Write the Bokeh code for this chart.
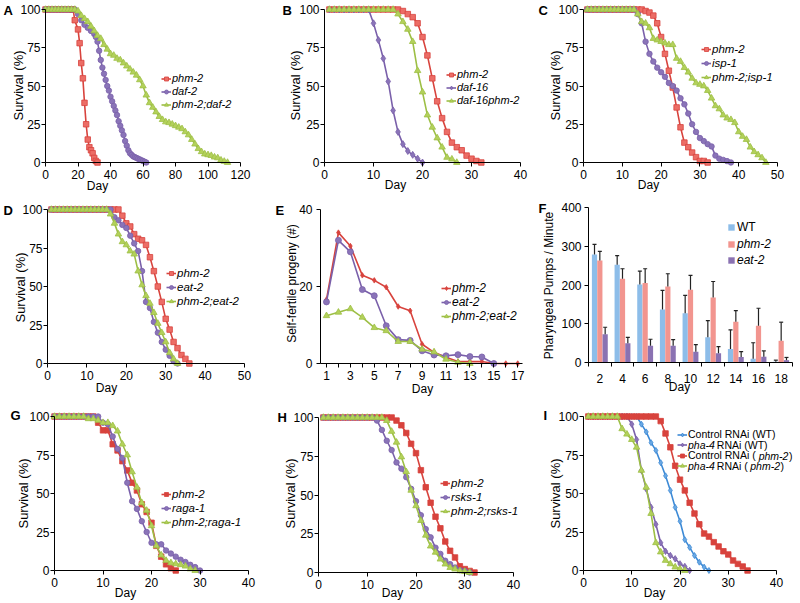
import math
from bokeh.plotting import figure
from bokeh.layouts import column, row
from bokeh.models import Range1d, FixedTicker, Legend, LegendItem, Label
from bokeh.embed import file_html
from bokeh.resources import INLINE

FONT = "Liberation Sans"

# ---------------- data ----------------
# A
a_phm2_day = [0, 2, 4, 6, 8, 10, 12, 14, 16, 17, 18, 20, 21, 22, 23, 24, 25, 26, 27, 28, 29, 30, 31, 32]
a_phm2 = [100, 100, 100, 100, 100, 100, 100, 100, 100, 100, 93, 87, 78, 65, 55, 39, 25, 15, 10, 8, 6, 3, 1, 0]
a_daf2_day = [0, 2, 4, 6, 8, 10, 12, 14, 16, 18, 20, 22, 24, 26, 28, 30, 31, 32, 33, 34, 35, 36, 37, 38, 39, 40,
              41, 42, 43, 44, 45, 46, 47, 48, 49, 50, 51, 52, 53, 54, 55, 56, 57, 58, 59, 60, 61, 62]
a_daf2 = [100, 100, 100, 100, 100, 100, 100, 100, 100, 100, 97, 93, 90, 88, 86, 84, 82, 79, 73, 67, 62, 58, 54, 50,
          47, 43, 40, 37, 34, 31, 27, 24, 21, 18, 14, 11, 8, 6, 5, 4, 3.5, 3, 2.5, 2, 1.5, 1, 0.5, 0]
a_dbl_day = [0, 2, 4, 6, 8, 10, 12, 14, 16, 18, 20, 22, 24, 26, 28, 30, 32, 34, 36, 38, 40, 42, 44, 46, 48, 50,
             52, 54, 56, 58, 60, 62, 64, 66, 68, 70, 72, 74, 76, 78, 80, 82, 84, 86, 88, 90, 92, 94, 96, 98, 100,
             102, 104, 106, 108, 110, 112]
a_dbl = [100, 100, 100, 100, 100, 100, 100, 100, 100, 100, 99, 96, 94, 92, 89, 86, 83, 81, 77, 74, 71, 70, 68, 67,
         65, 63, 61, 59, 57, 54, 50, 44, 39, 36, 33, 30, 28, 26.5, 26, 25, 24, 23, 22, 20, 18, 15, 12, 9, 7, 5.5,
         5, 4.5, 3.5, 3, 1.5, 0.7, 0]

# B
b_phm2_day = [1, 2, 3, 4, 5, 6, 7, 8, 9, 10, 11, 12, 13, 14, 15, 16, 17, 18, 19, 20, 21, 22, 23, 24, 25, 26, 27,
              28, 29, 30, 31, 32]
b_phm2 = [100, 100, 100, 100, 100, 100, 100, 100, 100, 100, 100, 100, 100, 100, 100, 99, 97, 95, 91, 82, 70, 55,
          40, 29, 20, 13, 10, 8, 4.5, 2.5, 1, 0]
b_daf16_day = [1, 2, 3, 4, 5, 6, 7, 8, 9, 10, 11, 12, 13, 14, 15, 16, 17, 18, 19, 20]
b_daf16 = [100, 100, 100, 100, 100, 100, 100, 100, 100, 91, 80, 68, 53, 34, 20, 12, 7.5, 5, 2.5, 0]
b_dbl_day = [1, 2, 3, 4, 5, 6, 7, 8, 9, 10, 11, 12, 13, 14, 15, 16, 17, 18, 19, 20, 21, 22, 23, 24, 25, 26, 27]
b_dbl = [100, 100, 100, 100, 100, 100, 100, 100, 100, 100, 100, 100, 100, 100, 97, 92, 87, 79, 60, 46, 31, 23,
         16, 10, 3.3, 2.2, 0]

# C
c_phm2_day = b_phm2_day
c_phm2 = [100, 100, 100, 100, 100, 100, 100, 100, 100, 100, 100, 100, 100, 100, 100, 99, 98, 96, 91, 82, 71, 60,
          49, 36, 23, 13, 10, 6.5, 3.5, 1, 1, 0]
c_isp1_day = [1, 2, 3, 4, 5, 6, 7, 8, 9, 10, 11, 12, 13, 14, 15, 16, 17, 18, 19, 20, 21, 22, 23, 24, 25, 26, 27,
              28, 29, 30, 31, 32, 33, 34, 35, 36, 37, 38]
c_isp1 = [100, 100, 100, 100, 100, 100, 100, 100, 100, 100, 100, 100, 100, 97, 91, 79, 71, 66, 62, 59, 56, 52, 50,
          47, 42, 38, 32, 25, 20, 16, 14, 12, 10.5, 4.5, 2.5, 1.7, 0.9, 0]
c_dbl_day = [1, 2, 3, 4, 5, 6, 7, 8, 9, 10, 11, 12, 13, 14, 15, 16, 17, 18, 19, 20, 21, 22, 23, 24, 25, 26, 27,
             28, 29, 30, 31, 32, 33, 34, 35, 36, 37, 38, 39, 40, 41, 42, 43, 44, 45, 46, 47]
c_dbl = [100, 100, 100, 100, 100, 100, 100, 100, 100, 100, 100, 100, 100, 97, 92, 91, 88, 81, 80, 79, 78, 77, 77,
         68, 66, 62, 59, 55, 52, 51, 50, 47, 42, 37, 35, 31, 29, 28, 26, 20, 17, 15, 10, 7, 5, 3, 0]

# D
d_phm2_day = [1, 2, 3, 4, 5, 6, 7, 8, 9, 10, 11, 12, 13, 14, 15, 16, 17, 18, 19, 20, 21, 22, 23, 24, 25, 26, 27,
              28, 29, 30, 31, 32, 33, 34, 35, 36]
d_phm2 = [100, 100, 100, 100, 100, 100, 100, 100, 100, 100, 100, 100, 100, 100, 100, 100, 100, 100, 96, 91, 89, 84,
          81, 80, 77, 69, 60, 50, 40, 29, 22, 14, 10, 5.5, 3, 0]
d_eat2_day = [1, 2, 3, 4, 5, 6, 7, 8, 9, 10, 11, 12, 13, 14, 15, 16, 17, 18, 19, 20, 21, 22, 23, 24, 25, 26, 27,
              28, 29, 30, 31, 32, 33]
d_eat2 = [100, 100, 100, 100, 100, 100, 100, 100, 100, 100, 100, 100, 100, 100, 100, 100, 95, 93, 90, 88, 83, 78,
          73, 60, 40, 36, 27, 20, 14, 9, 5, 1.5, 0]
d_dbl_day = d_eat2_day
d_dbl = [100, 100, 100, 100, 100, 100, 100, 100, 100, 100, 100, 100, 100, 100, 100, 97, 91, 84, 79, 77, 73, 71, 60,
         51, 44, 39, 33, 26, 20, 14, 7, 3, 0]

# E
e_phm2_day = [1, 2, 3, 4, 5, 6, 7, 8, 9, 10, 11, 12, 13, 14, 15, 16, 17]
e_phm2 = [16.6, 34, 30.5, 22.9, 21.6, 19.8, 14.8, 13.7, 5, 2.9, 1.6, 0.5, 0.5, 0.5, 0, 0, 0]
e_eat2_day = [1, 2, 3, 4, 5, 6, 7, 8, 9, 10, 11, 12, 13, 14, 15]
e_eat2 = [16, 32, 29, 19.2, 17.6, 9.8, 6.2, 6, 3.3, 2.2, 2, 2.3, 1.8, 1.7, 0]
e_dbl_day = [1, 2, 3, 4, 5, 6, 7, 8, 9, 10, 11, 12, 13]
e_dbl = [12.4, 13.3, 14.2, 12, 9.3, 8.5, 5.7, 5.7, 3.7, 3, 1.1, 0.3, 0]
e_ticks = [1, 3, 5, 7, 9, 11, 13, 15, 17]
e_minor = [2, 4, 6, 8, 10, 12, 14, 16]

# F
f_day = [2, 4, 6, 8, 10, 12, 14, 16, 18]
f_wt = [279, 252, 201, 137, 127, 65, 35, 10, 2]
f_wt_err = [26, 24, 35, 49, 46, 43, 49, 41, 4]
f_phm2 = [263, 216, 205, 196, 188, 168, 105, 95, 56]
f_phm2_err = [24, 26, 37, 33, 37, 41, 29, 45, 48]
f_eat2 = [73, 50, 43, 43, 28, 24, 14, 15, 6]
f_eat2_err = [18, 15, 17, 16, 18, 17, 14, 15, 7]
f_minor = [1, 3, 5, 7, 9, 11, 13, 15, 17, 19]

# G
g_phm2_day = [0, 1, 2, 3, 4, 5, 6, 7, 8, 9, 10, 11, 12, 13, 14, 15, 16, 17, 18, 19, 20, 21, 22, 23, 24, 25]
g_phm2 = [100, 100, 100, 100, 100, 100, 100, 100, 100, 96, 91, 91, 82, 78, 71, 65, 57, 52, 43, 38, 31, 16, 9, 4,
          1.5, 0]
g_raga1_day = [0, 1, 2, 3, 4, 5, 6, 7, 8, 9, 10, 11, 12, 13, 14, 15, 16, 17, 18, 19, 20, 21, 22, 23, 24, 25, 26,
               27, 28, 29, 30]
g_raga1 = [100, 100, 100, 100, 100, 100, 100, 100, 100, 100, 96, 95, 87, 79, 73, 57, 45, 40, 32, 25, 18, 17, 17,
           13, 11, 9, 7, 5.5, 3.7, 2.2, 0]
g_dbl_day = [0, 1, 2, 3, 4, 5, 6, 7, 8, 9, 10, 11, 12, 13, 14, 15, 16, 17, 18, 19, 20, 21, 22, 23, 24, 25, 26,
             27, 28, 29]
g_dbl = [100, 100, 100, 100, 100, 100, 100, 98.5, 98.5, 97.5, 96, 96, 94, 90.5, 82, 75, 64, 54, 44, 39, 29, 16,
         10, 6.5, 5, 4.3, 3.7, 2.8, 1, 0]

# H
h_phm2_day = b_phm2_day
h_phm2 = [100, 100, 100, 100, 100, 100, 100, 100, 100, 100, 100, 100, 100, 100, 100, 98, 95, 90, 83, 77, 66, 55,
          45, 36, 28.5, 20, 14, 9.7, 4, 2.2, 1, 0]
h_rsks1_day = [1, 2, 3, 4, 5, 6, 7, 8, 9, 10, 11, 12, 13, 14, 15, 16, 17, 18, 19, 20, 21, 22, 23, 24, 25, 26, 27,
               28, 29, 30, 31]
h_rsks1 = [100, 100, 100, 100, 100, 100, 100, 100, 100, 100, 100, 98, 92, 85, 79, 71, 67, 61.5, 54, 46, 37, 28,
           22.7, 16, 12, 7.6, 5.4, 3.2, 1.5, 1, 0]
h_dbl_day = h_rsks1_day
h_dbl = [100, 100, 100, 100, 100, 100, 100, 100, 100, 100, 100, 100, 100, 98, 91, 84, 74.5, 65, 53, 43, 33.5, 24,
         17, 13, 8.6, 5.4, 3.2, 2.2, 1, 0.6, 0]

# I
i_ctlwt_day = [1, 2, 3, 4, 5, 6, 7, 8, 9, 10, 11, 12, 13, 14, 15, 16, 17, 18, 19, 20, 21, 22, 23, 24, 25, 26]
i_ctlwt = [100, 100, 100, 100, 100, 100, 100, 100, 100, 100, 100, 95, 90, 83, 78, 70, 61.5, 52, 41, 32, 20, 15,
           9.7, 5.4, 2.2, 0]
i_phawt_day = [1, 2, 3, 4, 5, 6, 7, 8, 9, 10, 11, 12, 13, 14, 15, 16, 17, 18, 19, 20, 21, 22]
i_phawt = [100, 100, 100, 100, 100, 100, 100, 100, 100, 95, 85, 65, 53, 41, 30, 18, 12.5, 9.7, 7.6, 4.3, 2.6, 0]
i_ctlphm_day = [1, 2, 3, 4, 5, 6, 7, 8, 9, 10, 11, 12, 13, 14, 15, 16, 17, 18, 19, 20, 21, 22, 23, 24, 25, 26,
                27, 28, 29, 30, 31, 32, 33, 34]
i_ctlphm = [100, 100, 100, 100, 100, 100, 100, 100, 100, 100, 100, 100, 100, 100, 100, 97, 89, 80, 68, 59, 52, 44,
            37, 30, 24, 22, 18.4, 15.6, 12.5, 10.4, 6.5, 4.3, 2.6, 0]
i_phaphm_day = [1, 2, 3, 4, 5, 6, 7, 8, 9, 10, 11, 12, 13, 14, 15, 16, 17, 18, 19, 20, 21]
i_phaphm = [100, 100, 100, 100, 100, 100, 100, 92, 88.5, 85, 80, 65, 54, 37, 18, 12, 6.5, 4.3, 2.2, 1, 0]

surv_ticks = [0, 25, 50, 75, 100]

# ---------------- styling ----------------
RED = "#d8433d"
RED_F = "#ec6d66"
PUR = "#7a60aa"
PUR_F = "#8a74b8"
GRN = "#9dbf45"
GRN_F = "#b3d15a"
BLU = "#3d8ad6"
BLU_F = "#6aa8e3"

ROWS = [(0, 195), (195, 201), (396, 205)]
COLS = [(0, 269), (269, 261), (530, 270)]

AW = {' ': 278, '(': 333, ')': 333, '-': 333, 'C': 722, 'o': 556, 'n': 556, 't': 278, 'r': 333, 'l': 222,
      'R': 722, 'N': 722, 'A': 667, 'i': 222, 'W': 944, 'T': 611, 'p': 556, 'h': 556, 'a': 556, 'm': 833}


def text_w(s, size):
    return sum(AW.get(c, 556) for c in s) * size / 1000.0


def make_panel(col, rw, xlo, xhi, pxlo, pxhi, ylo, yhi, pyhi, pylo):
    """Frame covers the whole cell; data extents land on the given page pixels."""
    cx, cw = COLS[col]
    cy, ch = ROWS[rw]
    sx = (xhi - xlo) / (pxhi - pxlo)
    sy = (yhi - ylo) / (pylo - pyhi)
    xr = Range1d(xlo - (pxlo - cx) * sx, xhi + (cx + cw - pxhi) * sx)
    yr = Range1d(ylo - (cy + ch - pylo) * sy, yhi + (pyhi - cy) * sy)
    p = figure(width=cw, height=ch, x_range=xr, y_range=yr, output_backend="svg", toolbar_location=None,
               min_border=0)
    p.title.visible = False
    p.outline_line_color = None
    p.xgrid.visible = False
    p.ygrid.visible = False
    info = dict(cx=cx, cy=cy, ch=ch, xlo=xlo, xhi=xhi, ylo=ylo, yhi=yhi)
    return p, info


def style_axes(p, info, xticks, yticks, xminor=None, xmajor_out=4, y_s1=1):
    xa = p.xaxis[0]
    ya = p.yaxis[0]
    xa.ticker = FixedTicker(ticks=xticks, minor_ticks=xminor or [])
    ya.ticker = FixedTicker(ticks=yticks, minor_ticks=[])
    xa.fixed_location = info["ylo"]
    ya.fixed_location = info["xlo"]
    xa.bounds = (info["xlo"], info["xhi"])
    ya.bounds = (info["ylo"], info["yhi"])
    for ax in (xa, ya):
        ax.axis_label = None
        ax.axis_line_color = "black"
        ax.axis_line_width = 1
        ax.major_tick_line_color = "black"
        ax.major_tick_in = 0
        ax.major_tick_out = 4
        ax.minor_tick_line_color = "black"
        ax.minor_tick_in = 0
        ax.minor_tick_out = 4
        ax.major_label_text_font = FONT
        ax.major_label_text_font_size = "12px"
        ax.major_label_text_color = "black"
    xa.major_tick_out = xmajor_out
    xa.major_label_standoff = 3 + (4 - xmajor_out)
    ya.major_label_standoff = y_s1


def add_text(p, info, txt, px, py, size, style="normal", align="left", angle=0.0):
    p.add_layout(Label(x=px - info["cx"], y=info["cy"] + info["ch"] - py, x_units="screen", y_units="screen",
                       text=txt, text_font=FONT, text_font_size=f"{size}px", text_font_style=style,
                       text_color="black", text_baseline="middle", text_align=align, angle=angle))


def axis_titles(p, info, xlab, xpos, ylab, ypos, ysize=13):
    add_text(p, info, xlab, xpos[0], xpos[1], 12, align="center")
    add_text(p, info, ylab, ypos[0], ypos[1], ysize, align="center", angle=math.pi / 2)


def letter(p, info, txt, px, py):
    add_text(p, info, txt, px, py, 13, style="bold")


def series(p, x, y, color, fill, marker, size):
    l = p.line(x, y, line_color=color, line_width=1.6)
    s = p.scatter(x, y, marker=marker, size=size, fill_color=fill, line_color=color, line_width=0.8)
    return [l, s]


def add_legend(p, info, entries, xs, yc1, row_h, fsize, style="italic", glyph_w=10, glyph_h=None, standoff=1):
    n = len(entries)
    heff = int(round(fsize * 1.2))
    sp = int(round(row_h - heff))
    gh = int(glyph_h) if glyph_h is not None else heff
    top = yc1 - heff / 2.0
    bottom = top + n * heff + (n - 1) * sp
    leg = Legend(items=[LegendItem(label=lab, renderers=r) for lab, r in entries],
                 location=(xs - info["cx"], info["cy"] + info["ch"] - bottom),
                 glyph_width=glyph_w, glyph_height=gh, label_height=heff, label_width=5, spacing=sp,
                 padding=0, margin=0, label_standoff=standoff, border_line_alpha=0,
                 background_fill_alpha=0, label_text_font=FONT, label_text_font_size=f"{fsize}px",
                 label_text_font_style=style, label_text_color="black")
    p.add_layout(leg)
    return leg


# ---------------- Panel A ----------------
pA, iA = make_panel(0, 0, 0, 120, 45, 240, 0, 100, 9, 162)
style_axes(pA, iA, [0, 20, 40, 60, 80, 100, 120], surv_ticks)
rA1 = series(pA, a_phm2_day, a_phm2, RED, RED_F, "square", 5.5)
rA2 = series(pA, a_daf2_day, a_daf2, PUR, PUR_F, "circle", 5.5)
rA3 = series(pA, a_dbl_day, a_dbl, GRN, GRN_F, "triangle", 6.5)
add_legend(pA, iA, [("phm-2", rA1), ("daf-2", rA2), ("phm-2;daf-2", rA3)], 161, 82, 11, 11)
axis_titles(pA, iA, "Day", (97, 185), "Survival (%)", (18, 85))
letter(pA, iA, "A", 3, 10)

# ---------------- Panel B ----------------
pB, iB = make_panel(1, 0, 0, 40, 324, 520, 0, 100, 9, 162)
style_axes(pB, iB, [0, 10, 20, 30, 40], surv_ticks)
rB1 = series(pB, b_phm2_day, b_phm2, RED, RED_F, "square", 5.5)
rB2 = series(pB, b_daf16_day, b_daf16, PUR, PUR_F, "diamond", 7)
rB3 = series(pB, b_dbl_day, b_dbl, GRN, GRN_F, "triangle", 6.5)
add_legend(pB, iB, [("phm-2", rB1), ("daf-16", rB2), ("daf-16phm-2", rB3)], 446, 80, 10, 11)
axis_titles(pB, iB, "Day", (395, 184), "Survival (%)", (295, 85))
letter(pB, iB, "B", 282, 10)

# ---------------- Panel C ----------------
pC, iC = make_panel(2, 0, 0, 50, 583, 777, 0, 100, 9, 162)
style_axes(pC, iC, [0, 10, 20, 30, 40, 50], surv_ticks)
rC1 = series(pC, c_phm2_day, c_phm2, RED, RED_F, "square", 5.5)
rC2 = series(pC, c_isp1_day, c_isp1, PUR, PUR_F, "circle", 5.5)
rC3 = series(pC, c_dbl_day, c_dbl, GRN, GRN_F, "triangle", 6.5)
add_legend(pC, iC, [("phm-2", rC1), ("isp-1", rC2), ("phm-2;isp-1", rC3)], 701, 53, 12, 11.5)
axis_titles(pC, iC, "Day", (648, 184), "Survival (%)", (555, 85))
letter(pC, iC, "C", 538, 10)

# ---------------- Panel D ----------------
pD, iD = make_panel(0, 1, 0, 50, 47, 244, 0, 100, 209, 363)
style_axes(pD, iD, [0, 10, 20, 30, 40, 50], surv_ticks)
rD1 = series(pD, d_phm2_day, d_phm2, RED, RED_F, "square", 5.5)
rD2 = series(pD, d_eat2_day, d_eat2, PUR, PUR_F, "circle", 5.5)
rD3 = series(pD, d_dbl_day, d_dbl, GRN, GRN_F, "triangle", 6.5)
add_legend(pD, iD, [("phm-2", rD1), ("eat-2", rD2), ("phm-2;eat-2", rD3)], 166, 277, 12.5, 11.5)
axis_titles(pD, iD, "Day", (106, 387), "Survival (%)", (20, 287))
letter(pD, iD, "D", 3, 210)

# ---------------- Panel E ----------------
pE, iE = make_panel(1, 1, 0.5, 17.4, 320, 522, 0, 40, 209, 363)
style_axes(pE, iE, e_ticks, [0, 20, 40], xminor=e_minor, y_s1=4)
rE1 = series(pE, e_phm2_day, e_phm2, RED, RED, "diamond", 5.5)
rE2 = series(pE, e_eat2_day, e_eat2, PUR, PUR_F, "circle", 6)
rE3 = series(pE, e_dbl_day, e_dbl, GRN, GRN_F, "triangle", 6.5)
add_legend(pE, iE, [("phm-2", rE1), ("eat-2", rE2), ("phm-2;eat-2", rE3)], 441, 292, 12, 12)
axis_titles(pE, iE, "Day", (422, 388), "Self-fertile progeny (#)", (291, 283), ysize=12)
letter(pE, iE, "E", 275, 210)

# ---------------- Panel F ----------------
pF, iF = make_panel(2, 1, 1, 19, 588, 792, 0, 400, 207, 362)
style_axes(pF, iF, f_day, [0, 100, 200, 300, 400], xminor=f_minor, xmajor_out=0, y_s1=3)
fx_wt = [d - 0.47 for d in f_day]
fx_ph = [d for d in f_day]
fx_ea = [d + 0.47 for d in f_day]
bF1 = pF.vbar(x=fx_wt, top=f_wt, width=0.46, fill_color="#8dbde9", line_color=None)
bF2 = pF.vbar(x=fx_ph, top=f_phm2, width=0.46, fill_color="#f2958f", line_color=None)
bF3 = pF.vbar(x=fx_ea, top=f_eat2, width=0.46, fill_color="#8a72b2", line_color=None)
for xs_, v, e in ((fx_wt, f_wt, f_wt_err), (fx_ph, f_phm2, f_phm2_err), (fx_ea, f_eat2, f_eat2_err)):
    tops = [a + b for a, b in zip(v, e)]
    pF.segment(x0=xs_, y0=v, x1=xs_, y1=tops, line_color="#222222", line_width=1.2)
    pF.scatter(x=xs_, y=tops, marker="dash", size=4, line_color="#222222", line_width=1.2)
add_legend(pF, iF, [("WT", [bF1])], 727, 227, 8, 12, style="normal", glyph_w=8, glyph_h=8, standoff=2)
add_legend(pF, iF, [("phm-2", [bF2]), ("eat-2", [bF3])], 727, 244, 16, 12, glyph_w=8, glyph_h=8,
           standoff=2)
axis_titles(pF, iF, "Day", (679, 386), "Pharyngeal Pumps / Minute", (548, 285), ysize=12)
letter(pF, iF, "F", 538, 208)

# ---------------- Panel G ----------------
pG, iG = make_panel(0, 2, 0, 40, 54, 248, 0, 100, 416, 570)
style_axes(pG, iG, [0, 10, 20, 30, 40], surv_ticks)
rG1 = series(pG, g_phm2_day, g_phm2, RED, RED, "square", 5.5)
rG2 = series(pG, g_raga1_day, g_raga1, PUR, PUR_F, "circle", 5.5)
rG3 = series(pG, g_dbl_day, g_dbl, GRN, GRN_F, "triangle", 6.5)
add_legend(pG, iG, [("phm-2", rG1), ("raga-1", rG2), ("phm-2;raga-1", rG3)], 161, 498, 11.5, 11.5)
axis_titles(pG, iG, "Day", (125, 592), "Survival (%)", (23, 493))
letter(pG, iG, "G", 10, 415)

# ---------------- Panel H ----------------
pH, iH = make_panel(1, 2, 0, 40, 318, 513, 0, 100, 417, 572)
style_axes(pH, iH, [0, 10, 20, 30, 40], surv_ticks)
rH1 = series(pH, h_phm2_day, h_phm2, RED, RED, "square", 5.5)
rH2 = series(pH, h_rsks1_day, h_rsks1, PUR, PUR_F, "circle", 5.5)
rH3 = series(pH, h_dbl_day, h_dbl, GRN, GRN_F, "triangle", 6.5)
add_legend(pH, iH, [("phm-2", rH1), ("rsks-1", rH2), ("phm-2;rsks-1", rH3)], 440, 487, 11.5, 11.5)
axis_titles(pH, iH, "Day", (392, 592), "Survival (%)", (290, 493))
letter(pH, iH, "H", 277, 417)

# ---------------- Panel I ----------------
pI, iI = make_panel(2, 2, 0, 40, 583, 776, 0, 100, 416, 570)
style_axes(pI, iI, [0, 10, 20, 30, 40], surv_ticks)
rI1 = series(pI, i_ctlwt_day, i_ctlwt, BLU, BLU_F, "diamond", 6)
rI2 = series(pI, i_phawt_day, i_phawt, PUR, PUR_F, "diamond", 6.5)
rI3 = series(pI, i_ctlphm_day, i_ctlphm, RED, RED, "square", 5.5)
rI4 = series(pI, i_phaphm_day, i_phaphm, GRN, GRN_F, "triangle", 6.5)
FS = 10.5
xsI = 677
ts = xsI + 10 + 1
ycs = [434, 444.5, 455, 465.5]
add_legend(pI, iI, [("Control RNAi (WT)", rI1)], xsI, ycs[0], 10, FS, style="normal")
add_legend(pI, iI, [("pha-4", rI2)], xsI, ycs[1], 10, FS)
add_legend(pI, iI, [("Control RNAi (", rI3)], xsI, ycs[2], 10, FS, style="normal")
add_legend(pI, iI, [("pha-4", rI4)], xsI, ycs[3], 10, FS)
x2 = ts + text_w("pha-4", FS) + 1.5
add_text(pI, iI, "RNAi (WT)", x2, ycs[1], FS)
x3 = ts + text_w("Control RNAi (", FS) + 2.5
add_text(pI, iI, "phm-2", x3, ycs[2], FS, style="italic")
add_text(pI, iI, ")", x3 + text_w("phm-2", FS) + 0.5, ycs[2], FS)
x4 = ts + text_w("pha-4", FS) + 1.5
add_text(pI, iI, "RNAi (", x4, ycs[3], FS)
x5 = x4 + text_w("RNAi (", FS) + 2.5
add_text(pI, iI, "phm-2", x5, ycs[3], FS, style="italic")
add_text(pI, iI, ")", x5 + text_w("phm-2", FS) + 0.5, ycs[3], FS)
axis_titles(pI, iI, "Day", (654, 592), "Survival (%)", (555, 493))
letter(pI, iI, "I", 543, 415)

layout = column(row(pA, pB, pC, spacing=0), row(pD, pE, pF, spacing=0), row(pG, pH, pI, spacing=0), spacing=0)

open("out.html", "w").write(file_html(layout, INLINE))
